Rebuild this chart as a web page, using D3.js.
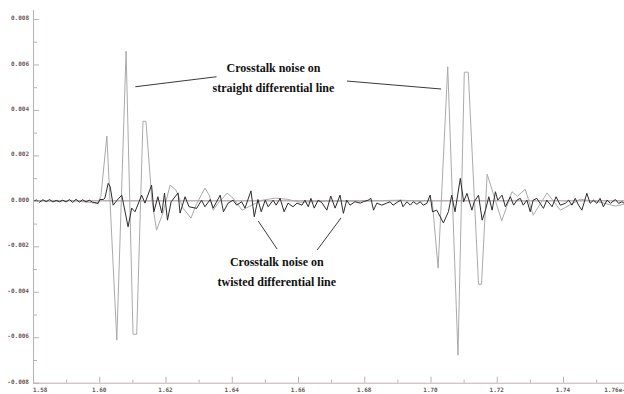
<!DOCTYPE html>
<html><head><meta charset="utf-8">
<script src="https://cdn.jsdelivr.net/npm/d3@7"></script>
<style>html,body{margin:0;padding:0;background:#fff;overflow:hidden}svg{display:block}</style>
</head><body><svg id="c" width="624" height="394"></svg>
<script>
// ---- data ----
const xTicks = [1.58,1.60,1.62,1.64,1.66,1.68,1.70,1.72,1.74,1.76];
const xTickLabels = ["1.58","1.60","1.62","1.64","1.66","1.68","1.70","1.72","1.74","1.76e-008"];
const yTicks = [-0.008,-0.006,-0.004,-0.002,0,0.002,0.004,0.006,0.008];
const yTickLabels = ["-0.008","-0.006","-0.004","-0.002","0.000","0.002","0.004","0.006","0.008"];

// straight differential line (grey trace): [time, value]
const straightNoise = [
[1.580,0.00002],[1.586,-0.00002],[1.592,0.00002],[1.5995,-0.00011],[1.6005,0.0002],[1.6023,0.00285],
[1.6053,-0.00613],[1.6081,0.00659],[1.6102,-0.00587],[1.6113,-0.00587],[1.6132,0.0035],[1.6141,0.0035],
[1.6159,0.00003],[1.6173,-0.00129],[1.6193,-0.0005],[1.6214,0.00069],[1.6232,0.00047],[1.6253,-0.00032],
[1.6277,-0.00076],[1.6292,-0.00019],[1.6319,0.00056],[1.6332,0.00025],[1.6344,-0.00041],[1.6359,-0.0001],
[1.6386,0.00034],[1.6404,0.00012],[1.6431,-0.00041],[1.6455,-0.00023],[1.6492,0.00003],[1.6531,0.00012],
[1.6567,0.00007],[1.6606,-0.00006],[1.6697,-0.00001],[1.6788,-0.00001],[1.6908,0.00003],[1.6969,-0.00001],
[1.7005,0.00003],[1.7023,-0.00296],[1.7052,0.0059],[1.7083,-0.00679],[1.7102,0.00566],[1.7114,0.00566],
[1.7145,-0.00367],[1.7154,-0.00367],[1.7171,0.00117],[1.7215,-0.00088],[1.7246,0.0004],[1.7262,0.0002],
[1.7286,0.00051],[1.7310,-0.00063],[1.7352,0.00035],[1.7392,-0.00041],[1.7452,0.00007],[1.7512,-0.00006],
[1.7558,-0.00023],[1.7585,-0.00015]
];

// twisted differential line (black trace): [time, value]
const twistedNoise = [
[1.580,-0.00003],[1.581,0.00004],[1.582,-0.00006],[1.583,0.00005],[1.584,-0.00004],[1.585,0.00006],
[1.586,-0.00005],[1.587,0.00002],[1.588,-0.00004],[1.589,0.00003],[1.590,-0.00005],[1.591,0.00006],
[1.592,-0.00007],[1.593,0.00007],[1.594,-0.00006],[1.595,0.00005],[1.596,-0.00005],[1.597,0.00003],
[1.598,-0.00006],[1.5997,-0.00011],[1.6002,0.00006],[1.6012,0.00006],[1.6017,0.00012],[1.6027,0.00077],
[1.6033,0.00062],[1.6042,-0.00019],[1.6054,0.00003],[1.6068,0.00025],[1.6087,-0.00114],[1.6098,-0.00032],
[1.6108,-0.00048],[1.6128,0.00025],[1.6138,-0.0001],[1.6158,0.00069],[1.6165,-0.00048],[1.6177,0.00018],
[1.6189,-0.00054],[1.6197,0.00034],[1.6206,-0.00085],[1.6217,-0.00004],[1.6238,0.00035],[1.6244,-0.00054],
[1.6259,0.00018],[1.6271,-0.00026],[1.6294,-0.00033],[1.6309,0.00003],[1.6319,-0.00026],[1.6335,0.00006],
[1.6344,-0.00032],[1.6365,0.00025],[1.6375,-0.00048],[1.6389,-0.0001],[1.6404,0.00003],[1.6415,-0.00019],
[1.6430,-0.00004],[1.6440,-0.00032],[1.6458,0.00044],[1.6468,-0.0007],[1.6479,0.00006],[1.6489,-0.00048],
[1.6501,0.00003],[1.6510,-0.00026],[1.6525,0.00003],[1.6534,-0.00019],[1.6546,0.00011],[1.6558,-0.00048],
[1.6570,-0.0001],[1.6585,-0.00026],[1.6597,-0.0001],[1.6612,-0.00019],[1.6621,0.00003],[1.6631,-0.00026],
[1.6639,0.00011],[1.6649,-0.00032],[1.6661,0.00003],[1.6672,-0.00008],[1.6687,-0.00041],[1.6699,0.00021],
[1.6712,-0.00032],[1.6727,0.00025],[1.6737,-0.00055],[1.6747,0.00003],[1.6757,-0.00019],[1.6772,-0.00004],
[1.6788,-0.0001],[1.6797,-0.00004],[1.6812,0.00003],[1.6820,0.00011],[1.6828,-0.00041],[1.6838,-0.0001],
[1.6853,-0.00019],[1.6868,-0.0001],[1.6878,-0.00004],[1.6887,-0.00019],[1.6902,-0.00004],[1.6910,0.00003],
[1.6917,-0.00026],[1.6929,-0.00004],[1.6939,-0.00019],[1.6948,-0.00004],[1.6959,-0.00015],[1.6969,-0.00004],
[1.6978,-0.00019],[1.6989,-0.00011],[1.6999,0.00025],[1.7006,-0.00048],[1.7019,-0.00041],[1.7039,-0.00097],
[1.7054,-0.00048],[1.7064,0.00025],[1.7074,-0.00048],[1.7090,0.00099],[1.7100,-0.00004],[1.7110,0.00033],
[1.7125,-0.00041],[1.7132,-0.00004],[1.7145,0.00025],[1.7156,-0.00085],[1.7166,-0.00041],[1.7176,0.00018],
[1.7186,-0.00041],[1.7196,0.0004],[1.7203,0.00003],[1.7216,0.00025],[1.7226,-0.00026],[1.7241,0.00018],
[1.7251,-0.00019],[1.7261,0.00003],[1.7271,0.00011],[1.7280,-0.00019],[1.7291,0.00003],[1.7301,-0.00048],
[1.7310,0.00003],[1.7321,0.00011],[1.7331,-0.00011],[1.7341,-0.00033],[1.7351,0.00003],[1.7367,-0.00026],
[1.7379,0.00018],[1.7392,-0.00019],[1.7407,-0.00011],[1.7417,0.00003],[1.7427,-0.00019],[1.7437,0.00011],
[1.7447,-0.00019],[1.7457,-0.00041],[1.7472,0.00033],[1.7482,-0.00011],[1.7492,0.00003],[1.7502,-0.00011],
[1.7512,0.00011],[1.7522,-0.00026],[1.7533,0.00003],[1.7543,-0.00011],[1.7558,0.00006],[1.7568,-0.00011],
[1.7578,-0.00004],[1.7585,-0.00011]
];

const annotStraight = ["Crosstalk noise on","straight differential line"];
const annotTwisted = ["Crosstalk noise on","twisted differential line"];
// callout pointer ends in data units: pairs of [t,v]
const straightPointers = [[1.6109,0.00502],[1.6354,0.00546],[1.6748,0.00527],[1.7032,0.00492]];
const twistedPointers = [[1.6480,-0.00089],[1.6537,-0.00212],[1.6730,-0.00075],[1.6658,-0.00216]];

// ---- drawing ----
const svg = d3.select("#c");
const L = 33, B = 382.7, T = 19;
const x = d3.scaleLinear().domain([1.58,1.76]).range([L, L + 9*66.25]);
const y = d3.scaleLinear().domain([-0.008,0.008]).range([B, T]);
const axisCol = "#bdb0b0", labCol = "#6e5656";

// zero line
svg.append("line").attr("x1",L).attr("x2",624).attr("y1",y(0)).attr("y2",y(0))
  .attr("stroke","#a08888").attr("stroke-width",1);

const line = d3.line().x(d=>x(d[0])).y(d=>y(d[1]));
svg.append("path").datum(straightNoise).attr("d",line).attr("fill","none")
  .attr("stroke","#aaaaaa").attr("stroke-width",1);
svg.append("path").datum(twistedNoise).attr("d",line).attr("fill","none")
  .attr("stroke","#2b2b2b").attr("stroke-width",1);

// axes
const gy = svg.append("g").attr("transform",`translate(${L},0)`)
  .call(d3.axisRight(y).tickValues(yTicks).tickSize(6).tickFormat(""));
gy.select(".domain").remove();
gy.selectAll("line").attr("stroke",axisCol);
const yMinor = d3.range(-0.007,0.0081,0.002);
svg.append("g").attr("transform",`translate(${L},0)`)
  .call(d3.axisRight(y).tickValues(yMinor).tickSize(4).tickFormat(""))
  .call(g=>g.select(".domain").remove()).selectAll("line").attr("stroke",axisCol);
svg.append("line").attr("x1",L+0.5).attr("x2",L+0.5).attr("y1",10).attr("y2",B+1).attr("stroke",axisCol);

const gx = svg.append("g").attr("transform",`translate(0,${B})`)
  .call(d3.axisTop(x).tickValues(xTicks).tickSize(6).tickFormat(""));
gx.select(".domain").remove();
gx.selectAll("line").attr("stroke",axisCol);
const xMinor = d3.range(1.59,1.76,0.02);
svg.append("g").attr("transform",`translate(0,${B})`)
  .call(d3.axisTop(x).tickValues(xMinor).tickSize(3).tickFormat(""))
  .call(g=>g.select(".domain").remove()).selectAll("line").attr("stroke",axisCol);
svg.append("line").attr("x1",L).attr("x2",624).attr("y1",B+0.5).attr("y2",B+0.5).attr("stroke",axisCol);

// tick labels
const tf = "'DejaVu Sans Mono', monospace";
svg.append("g").selectAll("text").data(yTicks).join("text")
  .attr("x",L-4).attr("y",d=>y(d)-1).attr("dy","0.35em")
  .attr("text-anchor","end").attr("font-family",tf).attr("font-weight","bold")
  .attr("font-size",6).attr("fill",labCol).text((d,i)=>yTickLabels[i]);
svg.append("g").selectAll("text").data(xTicks).join("text")
  .attr("x",d=>x(d)).attr("y",B+9)
  .attr("text-anchor",(d,i)=> (i===0 || i===xTicks.length-1) ? "start" : "middle")
  .attr("dx",(d,i)=> i===xTicks.length-1 ? -25 : 0)
  .attr("font-family",tf).attr("font-weight","bold")
  .attr("font-size",6).attr("fill",labCol).text((d,i)=>xTickLabels[i]);

// annotations
const af = "'Liberation Serif','Times New Roman',serif";
function annot(lines, cx, baseY){
  svg.append("g").selectAll("text").data(lines).join("text")
    .attr("x",cx).attr("y",(d,i)=>baseY+i*19.5).attr("text-anchor","middle")
    .attr("font-family",af).attr("font-weight","bold").attr("font-size",12)
    .attr("fill","#111").text(d=>d);
}
annot(annotStraight, x(1.6526), 72);
annot(annotTwisted, x(1.6536), 266);
function pointers(p){
  for(let i=0;i<p.length;i+=2){
    svg.append("line").attr("x1",x(p[i][0])).attr("y1",y(p[i][1]))
      .attr("x2",x(p[i+1][0])).attr("y2",y(p[i+1][1]))
      .attr("stroke","#3a3a3a").attr("stroke-width",1);
  }
}
pointers(straightPointers);
pointers(twistedPointers);
</script></body></html>
